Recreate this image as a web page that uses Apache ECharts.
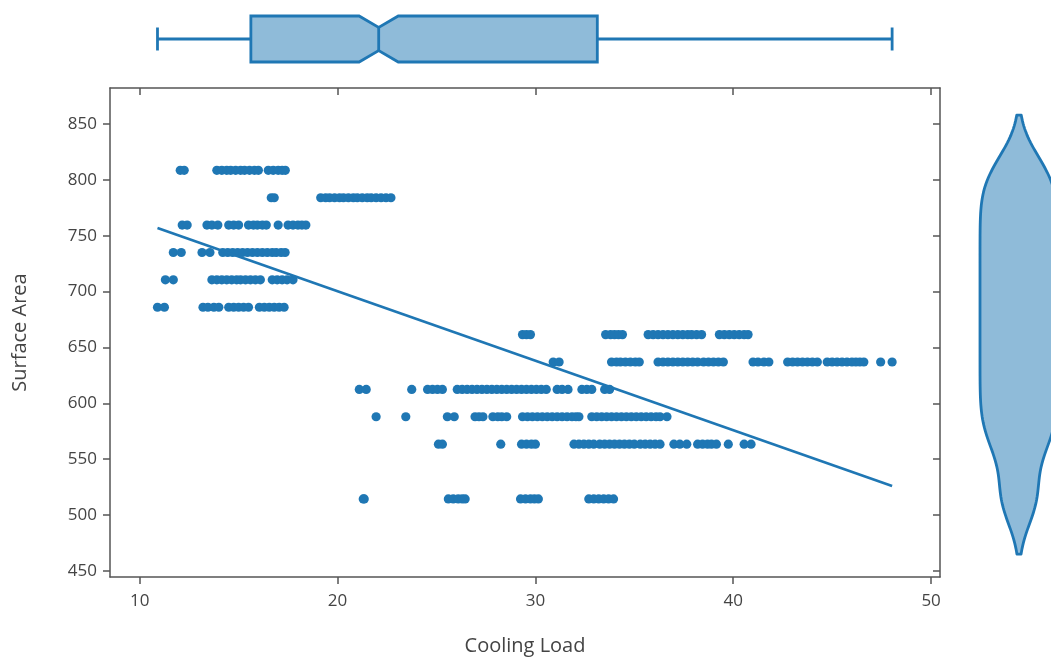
<!DOCTYPE html>
<html>
<head>
<meta charset="utf-8">
<script src="https://cdn.jsdelivr.net/npm/echarts@6/dist/echarts.min.js"></script>
<style>
  html, body { margin: 0; padding: 0; background: #fff; }
  #chart { width: 1051px; height: 657px; }
</style>
</head>
<body>
<div id="chart"></div>
<script>
// Surface area of each building shape (m²)
const surfaceLevels = [808.5, 784, 759.5, 735, 710.5, 686, 661.5, 637, 612.5, 588, 563.5, 514.5];

// Cooling loads observed for each surface area, same order as surfaceLevels
const cooling808 = [12.05, 12.25, 13.9, 14.15, 14.4, 14.6, 14.85, 15.1, 15.3, 15.55, 15.8, 16.0, 16.5, 16.75, 17.0, 17.2, 17.36];
const cooling784 = [16.65, 16.8, 19.15, 19.4, 19.6, 19.85, 20.1, 20.3, 20.55, 20.8, 21.0, 21.25, 21.5, 21.7, 21.95, 22.2, 22.45, 22.7];
const cooling759 = [12.15, 12.4, 13.4, 13.65, 13.95, 14.5, 14.75, 15.0, 15.5, 15.75, 15.95, 16.2, 16.4, 17.0, 17.5, 17.75, 18.0, 18.2, 18.4];
const cooling735 = [11.7, 12.1, 13.15, 13.55, 14.2, 14.45, 14.7, 14.95, 15.2, 15.45, 15.7, 15.95, 16.2, 16.45, 16.7, 16.9, 17.15, 17.35];
const cooling710 = [11.3, 11.7, 13.65, 13.9, 14.15, 14.4, 14.65, 14.9, 15.1, 15.35, 15.6, 15.85, 16.1, 16.7, 16.95, 17.2, 17.45, 17.75];
const cooling686 = [10.9, 11.25, 13.2, 13.45, 13.75, 14.0, 14.5, 14.75, 15.0, 15.25, 15.5, 16.05, 16.3, 16.55, 16.8, 17.05, 17.3];
const cooling661 = [29.35, 29.55, 29.75, 33.55, 33.8, 34.0, 34.2, 34.4, 35.7, 35.95, 36.2, 36.45, 36.7, 36.95, 37.2, 37.45, 37.7, 37.9, 38.15, 38.4, 39.3, 39.55, 39.8, 40.05, 40.3, 40.55, 40.75];
const cooling637 = [30.9, 31.2, 33.85, 34.1, 34.3, 34.55, 34.8, 35.05, 35.25, 36.2, 36.45, 36.7, 36.95, 37.2, 37.45, 37.7, 37.95, 38.2, 38.5, 38.75, 39.0, 39.25, 39.5, 41.0, 41.25, 41.55, 41.8, 42.75, 43.0, 43.25, 43.5, 43.75, 44.0, 44.25, 44.75, 45.0, 45.25, 45.5, 45.75, 46.0, 46.2, 46.4, 46.6, 47.45, 48.03];
const cooling612 = [21.1, 21.45, 23.75, 24.55, 24.8, 25.05, 25.3, 26.05, 26.3, 26.55, 26.8, 27.05, 27.3, 27.55, 27.8, 28.05, 28.3, 28.55, 28.8, 29.05, 29.3, 29.55, 29.8, 30.05, 30.3, 30.55, 31.1, 31.35, 31.65, 32.35, 32.6, 32.85, 33.5, 33.75];
const cooling588 = [21.95, 23.45, 25.55, 25.9, 26.95, 27.15, 27.35, 27.85, 28.1, 28.3, 28.55, 29.35, 29.6, 29.85, 30.1, 30.35, 30.6, 30.85, 31.1, 31.35, 31.6, 31.85, 32.05, 32.2, 32.85, 33.1, 33.35, 33.6, 33.85, 34.1, 34.35, 34.6, 34.85, 35.1, 35.35, 35.6, 35.85, 36.1, 36.3, 36.65];
const cooling563 = [25.1, 25.3, 28.25, 29.3, 29.55, 29.8, 30.0, 31.95, 32.2, 32.45, 32.7, 32.95, 33.25, 33.5, 33.75, 34.0, 34.25, 34.5, 34.75, 35.0, 35.3, 35.55, 35.8, 36.05, 36.3, 37.0, 37.3, 37.65, 38.2, 38.45, 38.7, 38.9, 39.15, 39.75, 40.55, 40.9];
const cooling514 = [21.3, 21.35, 25.6, 25.85, 26.1, 26.3, 26.45, 29.25, 29.5, 29.75, 29.95, 30.15, 32.7, 32.95, 33.2, 33.45, 33.7, 33.95];
const coolingByLevel = [cooling808, cooling784, cooling759, cooling735, cooling710, cooling686,
                        cooling661, cooling637, cooling612, cooling588, cooling563, cooling514];

// Number of buildings sharing each surface area (feeds the density curve)
const buildingsPerLevel = [64, 64, 64, 64, 64, 64, 64, 64, 64, 64, 64, 64];

// Cooling load summary: min, Q1, median, Q3, max, and the notch around the median
const coolingSummary = [10.9, 15.62, 22.08, 33.13, 48.03];
const medianNotch = [21.09, 23.07];

// Least-squares trend line end points (cooling load, surface area)
const trendCooling = [10.9, 48.03];
const trendSurface = [757.0, 526.0];

// Tick labels
const xTicks = [10, 20, 30, 40, 50];
const yTicks = [450, 500, 550, 600, 650, 700, 750, 800, 850];

// ---------- derived drawing data ----------
const BLUE = '#1f77b4';
const FILL = 'rgba(31,119,180,0.5)';
const AXIS = '#555';
const TEXT = '#444';
const FONT = 'Open Sans';
const X_RANGE = [8.5, 50.45];
const Y_RANGE = [444.6, 882.2];

const scatterPoints = [];
surfaceLevels.forEach((s, i) => coolingByLevel[i].forEach(c => scatterPoints.push([c, s])));

const trendPoints = trendCooling.map((c, i) => [c, trendSurface[i]]);

// Gaussian kernel density of surface area (Silverman-style bandwidth)
function kde() {
  const vals = [];
  surfaceLevels.forEach((s, i) => { for (let k = 0; k < buildingsPerLevel[i]; k++) vals.push(s); });
  vals.sort((a, b) => a - b);
  const n = vals.length;
  const mean = vals.reduce((a, b) => a + b, 0) / n;
  const sd = Math.sqrt(vals.reduce((a, b) => a + (b - mean) * (b - mean), 0) / (n - 1));
  const q = p => { const h = (n - 1) * p, lo = Math.floor(h); return vals[lo] + (h - lo) * ((vals[lo + 1] ?? vals[lo]) - vals[lo]); };
  const iqr = q(0.75) - q(0.25);
  const bw = 1.059 * Math.min(sd, iqr / 1.349) * Math.pow(n, -0.2);
  const lo = vals[0] - 2 * bw, hi = vals[n - 1] + 2 * bw;
  const steps = 160;
  const out = [];
  for (let k = 0; k <= steps; k++) {
    const y = lo + (hi - lo) * k / steps;
    let d = 0;
    surfaceLevels.forEach((s, i) => { const z = (y - s) / bw; d += buildingsPerLevel[i] * Math.exp(-0.5 * z * z); });
    out.push([y, d]);
  }
  const mx = Math.max(...out.map(p => p[1]));
  return out.map(p => [p[0], p[1] / mx]);
}
const density = kde();
// violin panel: x axis spans [-59, 32] so the violin's axis sits 59 units in from the panel's left edge
const VIOLIN_X = [-59, 32];
const VIOLIN_HALF = 39;

const chart = echarts.init(document.getElementById('chart'), null, { renderer: 'canvas' });

const axisLineStyle = { color: AXIS, width: 1.5 };
const hiddenAxis = { show: false };

chart.setOption({
  animation: false,
  backgroundColor: '#fff',
  textStyle: { fontFamily: FONT },
  grid: [
    { left: 110, top: 88, width: 830, height: 489, outerBoundsMode: 'none', containLabel: false },
    { left: 110, top: 16, width: 830, height: 46, outerBoundsMode: 'none', containLabel: false },
    { left: 960, top: 88, right: 0, height: 489, outerBoundsMode: 'none', containLabel: false }
  ],
  xAxis: [
    {
      gridIndex: 0, type: 'value', min: X_RANGE[0], max: X_RANGE[1], position: 'bottom',
      name: 'Cooling Load', nameLocation: 'middle', nameGap: 59,
      nameTextStyle: { color: TEXT, fontSize: 20, fontFamily: FONT },
      axisLine: { show: true, lineStyle: axisLineStyle },
      axisTick: { show: true, length: 7, lineStyle: axisLineStyle, customValues: xTicks },
      axisLabel: { color: TEXT, fontSize: 17, fontFamily: FONT, margin: 16, customValues: xTicks },
      splitLine: { show: false }
    },
    {
      gridIndex: 0, type: 'value', min: X_RANGE[0], max: X_RANGE[1], position: 'top',
      axisLine: { show: true, lineStyle: axisLineStyle },
      axisTick: { show: true, inside: true, length: 7, lineStyle: axisLineStyle, customValues: xTicks },
      axisLabel: { show: false },
      splitLine: { show: false }
    },
    Object.assign({ gridIndex: 1, type: 'value', min: X_RANGE[0], max: X_RANGE[1] }, hiddenAxis),
    Object.assign({ gridIndex: 2, type: 'value', min: VIOLIN_X[0], max: VIOLIN_X[1] }, hiddenAxis)
  ],
  yAxis: [
    {
      gridIndex: 0, type: 'value', min: Y_RANGE[0], max: Y_RANGE[1], position: 'left',
      name: 'Surface Area', nameLocation: 'middle', nameGap: 80, nameRotate: 90,
      nameTextStyle: { color: TEXT, fontSize: 20, fontFamily: FONT },
      axisLine: { show: true, lineStyle: axisLineStyle },
      axisTick: { show: true, length: 7, lineStyle: axisLineStyle, customValues: yTicks },
      axisLabel: { color: TEXT, fontSize: 17, fontFamily: FONT, margin: 13, customValues: yTicks },
      splitLine: { show: false }
    },
    {
      gridIndex: 0, type: 'value', min: Y_RANGE[0], max: Y_RANGE[1], position: 'right',
      axisLine: { show: true, lineStyle: axisLineStyle },
      axisTick: { show: true, inside: true, length: 7, lineStyle: axisLineStyle, customValues: yTicks },
      axisLabel: { show: false },
      splitLine: { show: false }
    },
    Object.assign({ gridIndex: 1, type: 'value', min: -1, max: 1 }, hiddenAxis),
    Object.assign({ gridIndex: 2, type: 'value', min: Y_RANGE[0], max: Y_RANGE[1] }, hiddenAxis)
  ],
  series: [
    {
      type: 'scatter', xAxisIndex: 0, yAxisIndex: 0,
      data: scatterPoints, symbol: 'circle', symbolSize: 9.2,
      itemStyle: { color: BLUE, opacity: 1 }, z: 2
    },
    {
      type: 'line', xAxisIndex: 0, yAxisIndex: 0,
      data: trendPoints, symbol: 'none',
      lineStyle: { color: BLUE, width: 2.6 }, z: 3
    },
    {
      // notched box of cooling load
      type: 'custom', xAxisIndex: 2, yAxisIndex: 2, clip: false,
      data: [coolingSummary.concat(medianNotch)],
      renderItem(params, api) {
        const [mn, q1, md, q3, mx, nlo, nhi] = [0, 1, 2, 3, 4, 5, 6].map(i => api.value(i));
        const P = (x, y) => api.coord([x, y]);
        const half = 1, inner = 0.5, cap = 0.5;
        const stroke = { stroke: BLUE, lineWidth: 2.8, fill: null };
        const outline = [P(q1, half), P(nlo, half), P(md, inner), P(nhi, half), P(q3, half),
                         P(q3, -half), P(nhi, -half), P(md, -inner), P(nlo, -half), P(q1, -half)];
        const seg = (a, b) => ({ type: 'line', shape: { x1: a[0], y1: a[1], x2: b[0], y2: b[1] }, style: stroke });
        return {
          type: 'group',
          children: [
            seg(P(mn, 0), P(q1, 0)),
            seg(P(q3, 0), P(mx, 0)),
            seg(P(mn, cap), P(mn, -cap)),
            seg(P(mx, cap), P(mx, -cap)),
            { type: 'polygon', shape: { points: outline },
              style: { fill: FILL, stroke: BLUE, lineWidth: 2.8, lineJoin: 'miter' } },
            seg(P(md, inner), P(md, -inner))
          ]
        };
      }
    },
    {
      // density of surface area
      type: 'custom', xAxisIndex: 3, yAxisIndex: 3, clip: false,
      data: [[0]],
      renderItem(params, api) {
        const right = density.map(([y, d]) => api.coord([d * VIOLIN_HALF, y]));
        const left = density.slice().reverse().map(([y, d]) => api.coord([-d * VIOLIN_HALF, y]));
        return {
          type: 'polygon',
          shape: { points: right.concat(left), smooth: 0 },
          style: { fill: FILL, stroke: BLUE, lineWidth: 2.8, lineJoin: 'round' }
        };
      }
    }
  ]
});
</script>
</body>
</html>
